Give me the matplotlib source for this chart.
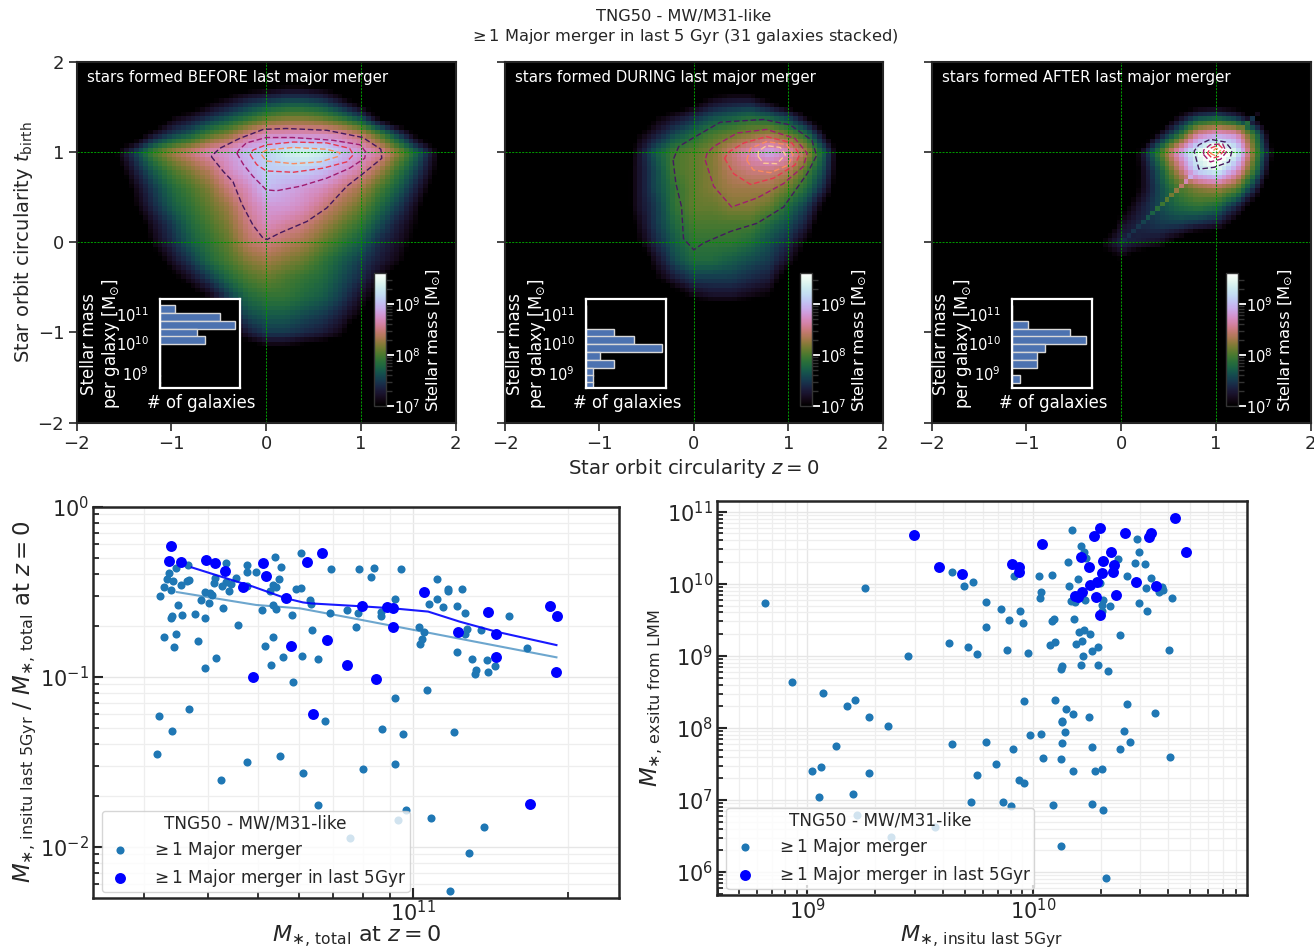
import numpy as np
import matplotlib
matplotlib.use("Agg")
import matplotlib.pyplot as plt
from matplotlib.colors import LogNorm
from matplotlib.ticker import LogLocator, NullFormatter, LogFormatterMathtext

W, H = 1314, 948
TXT = '#262626'
plt.rcParams.update({'font.family': 'DejaVu Sans', 'text.color': TXT, 'axes.labelcolor': TXT,
                     'xtick.color': TXT, 'ytick.color': TXT, 'axes.edgecolor': TXT})

# --- log10 stellar mass x10, read on a 0.2 grid (rows: y=2..-2, columns: x=-2..2); 65 = below the colour range
_ = 65
density_before = [
 [_]*21,
 [_,_,_,_,_,_,_,_,_,66,67,68,68,67,66,_,_,_,_,_,_],
 [_,_,_,_,_,_,_,69,71,73,74,75,75,74,71,67,_,_,_,_,_],
 [_,_,_,_,_,70,72,74,76,78,80,81,81,80,78,75,69,_,_,_,_],
 [_,_,_,67,72,75,77,80,82,85,87,87,87,87,86,84,80,75,69,_,_],
 [_,_,70,75,80,83,85,87,88,90,91,93,94,93,90,88,86,82,77,71,_],
 [_,_,68,73,77,80,82,84,87,89,91,91,91,90,88,86,83,79,75,70,_],
 [_,_,_,71,75,78,80,82,85,87,90,89,88,87,85,83,80,77,73,68,_],
 [_,_,_,70,74,77,79,81,83,86,88,88,87,85,83,81,78,75,71,_,_],
 [_,_,_,67,72,75,78,80,82,85,87,86,85,83,81,79,76,73,70,_,_],
 [_,_,_,_,71,74,77,79,81,84,85,84,83,81,79,77,74,72,69,_,_],
 [_,_,_,_,68,72,75,78,80,82,83,82,81,79,77,75,73,71,66,_,_],
 [_,_,_,_,_,69,72,75,78,80,81,80,79,78,76,74,71,67,_,_,_],
 [_,_,_,_,_,_,68,71,75,78,79,79,78,77,75,72,69,_,_,_,_],
 [_,_,_,_,_,_,_,68,73,76,77,77,76,75,73,70,_,_,_,_,_],
 [_,_,_,_,_,_,_,_,69,73,75,75,74,73,71,_,_,_,_,_,_],
 [_,_,_,_,_,_,_,_,_,67,69,69,68,67,66,_,_,_,_,_,_],
 [_]*21, [_]*21, [_]*21, [_]*21,
]
density_during = [
 [_]*21, [_]*21,
 [_,_,_,_,_,_,_,_,_,_,68,71,72,72,69,_,_,_,_,_,_],
 [_,_,_,_,_,_,_,_,70,72,74,76,77,78,77,75,70,_,_,_,_],
 [_,_,_,_,_,_,_,70,73,76,78,80,81,82,83,81,78,70,_,_,_],
 [_,_,_,_,_,_,_,72,77,80,81,82,85,87,89,87,83,76,_,_,_],
 [_,_,_,_,_,_,67,72,76,80,81,82,84,85,85,84,80,75,_,_,_],
 [_,_,_,_,_,_,67,72,76,79,81,82,83,83,83,81,78,73,_,_,_],
 [_,_,_,_,_,_,67,72,75,79,81,81,82,82,81,78,75,69,_,_,_],
 [_,_,_,_,_,_,_,71,75,78,80,80,80,80,78,76,73,66,_,_,_],
 [_,_,_,_,_,_,_,70,74,77,79,79,79,78,76,74,70,_,_,_,_],
 [_,_,_,_,_,_,_,66,72,76,78,78,77,76,75,72,67,_,_,_,_],
 [_,_,_,_,_,_,_,_,70,73,75,75,75,74,73,68,_,_,_,_,_],
 [_,_,_,_,_,_,_,_,_,68,71,72,72,71,70,_,_,_,_,_,_],
 [_]*21, [_]*21, [_]*21, [_]*21, [_]*21, [_]*21, [_]*21,
]
density_after = [
 [_]*21, [_]*21, [_]*21,
 [_,_,_,_,_,_,_,_,_,_,_,_,_,71,75,76,74,69,_,_,_],
 [_,_,_,_,_,_,_,_,_,_,_,_,72,78,86,88,87,79,67,_,_],
 [_,_,_,_,_,_,_,_,_,_,_,72,80,88,95,100,94,81,70,_,_],
 [_,_,_,_,_,_,_,_,_,_,_,71,77,84,92,94,88,79,68,_,_],
 [_,_,_,_,_,_,_,_,_,_,66,71,76,80,82,83,81,74,_,_,_],
 [_,_,_,_,_,_,_,_,_,_,69,73,76,78,79,78,74,68,_,_,_],
 [_,_,_,_,_,_,_,_,_,66,72,74,75,75,74,73,69,_,_,_,_],
 [_,_,_,_,_,_,_,_,_,71,74,73,72,69,_,_,_,_,_,_,_],
 [_,_,_,_,_,_,_,_,_,68,70,66,_,_,_,_,_,_,_,_,_],
 [_]*21, [_]*21, [_]*21, [_]*21, [_]*21, [_]*21, [_]*21, [_]*21, [_]*21,
]
streak_pos = [0.0, 0.2, 0.4, 0.6, 0.7, 0.75, 1.2, 1.3, 1.4, 1.45]
streak_val = [74, 75, 79, 83, 88, 90, 85, 80, 73, 70]

# --- contours (circularity z=0, circularity t_birth)
cont_before = [
 [(-.58,.95),(-.45,.78),(-.35,.67),(-.26,.43),(-.14,.19),(-.03,.04),(.01,.03),(.14,.10),(.43,.23),(.64,.38),(.85,.62),(1.01,.75),(1.22,.93),(1.21,1.03),(1.02,1.16),(.64,1.24),(.21,1.26),(-.03,1.25),(-.28,1.15),(-.49,1.04)],
 [(-.31,.985),(-.24,.86),(-.14,.73),(0,.58),(.11,.57),(.36,.62),(.64,.71),(.88,.82),(1.04,.93),(1.05,1.0),(.99,1.08),(.70,1.13),(.28,1.16),(0,1.16),(-.21,1.10),(-.29,1.02)],
 [(-.17,.97),(-.10,.86),(0,.79),(.285,.775),(.60,.82),(.85,.89),(.92,.97),(.88,1.04),(.64,1.10),(.285,1.11),(0,1.08),(-.14,1.02)],
 [(-.05,.97),(0,.90),(.285,.87),(.57,.89),(.76,.95),(.78,.99),(.64,1.03),(.285,1.05),(0,1.02),(-.05,.99)],
]
cont_during = [
 [(-.22,.91),(-.19,.65),(-.13,.39),(-.11,.04),(0,-.085),(.10,-.01),(.39,.12),(.67,.21),(.95,.39),(1.20,.76),(1.30,.96),(1.25,1.13),(1.02,1.30),(.74,1.36),(.28,1.33),(0,1.16),(-.16,1.06)],
 [(.12,.91),(.21,.62),(.40,.39),(.67,.49),(.95,.65),(1.16,.84),(1.20,.985),(1.07,1.15),(.77,1.25),(.46,1.21),(.21,1.06),(.14,.985)],
 [(.325,.93),(.42,.76),(.60,.64),(.845,.71),(1.07,.855),(1.12,.97),(1.04,1.10),(.77,1.17),(.53,1.10),(.37,1.0)],
 [(.56,.91),(.63,.80),(.81,.77),(1.0,.855),(1.05,.97),(.985,1.08),(.77,1.115),(.60,1.04)],
 [(.68,.95),(.74,.875),(.88,.87),(.97,.97),(.915,1.05),(.77,1.07),(.685,1.01)],
]
cont_after = [
 [(.785,.95),(.82,.81),(.98,.83),(1.14,.89),(1.17,1.02),(1.10,1.11),(.94,1.14),(.82,1.08),(.77,1.01)],
 [(.87,.97),(.94,.89),(1.05,.92),(1.11,1.0),(1.07,1.09),(.94,1.08),(.87,1.02)],
 [(.91,.985),(.96,.93),(1.03,.95),(1.09,1.02),(1.03,1.08),(.94,1.04)],
 [(.94,.985),(1.0,.955),(1.05,1.02),(1.0,1.04)],
]
cont_colors = ['#45195f', '#a01c70', '#e8384f', '#fb8b5e', '#fdc894']

# --- inset histograms
hist_centers = [11.17, 10.91, 10.64, 10.37, 10.11, 9.84, 9.57, 9.30, 9.04, 8.79, 8.56]
hist_before = [2, 8, 10, 5, 6, 0, 0, 0, 0, 0, 0]
hist_during = [0, 0, 0, 4, 7, 11, 2, 4, 1, 1, 1]
hist_after  = [0, 0, 2, 7, 9, 4, 3, 3, 0, 1, 0]
hist_xmax = [10.7, 11.6, 9.7]

titles = ['stars formed BEFORE last major merger', 'stars formed DURING last major merger', 'stars formed AFTER last major merger']

# --- bottom left: log10 total mass, log10 fraction
allm_x = [10.509,10.516,10.525,10.523,10.533,10.530,10.539,10.562,10.549,10.560,10.565,10.544,10.551,10.531,10.530,10.516,10.540,10.536,10.577,10.595,10.583,10.617,10.595,10.595,10.606,10.609,10.603,10.589,10.615,10.613,10.628,10.637,10.637,10.647,10.656,10.642,10.630,10.659,10.677,10.677,10.695,10.678,10.722,10.728,10.734,10.740,10.732,10.743,10.728,10.733,10.707,10.764,10.773,10.727,10.713,10.724,10.747,10.767,10.507,10.564,
 10.783,10.840,10.894,10.924,10.919,10.976,10.782,10.799,10.802,10.839,10.871,10.892,10.938,10.937,10.964,10.803,10.888,10.785,10.816,10.828,11.046,11.067,11.067,11.094,11.047,11.030,11.058,11.084,11.100,11.186,11.011,11.020,11.017,11.014,11.105,11.100,11.132,11.085,11.115,11.143,11.158,11.121,11.119,11.146,11.220,11.026,10.964,
 10.531,10.939,10.981,11.080,10.503,10.678,10.741,10.787,10.627,10.903,10.964,10.815,10.986,11.035,10.970,10.878,11.137,11.108,11.072]
allm_y = [-.523,-.470,-.392,-.427,-.435,-.490,-.359,-.345,-.461,-.435,-.431,-.578,-.637,-.643,-.657,-.765,-.747,-.823,-.631,-.657,-.788,-.888,-.951,-.500,-.510,-.519,-.565,-.549,-.421,-.447,-.465,-.329,-.441,-.457,-.421,-.494,-.598,-.694,-.343,-.384,-.384,-.467,-.496,-.461,-.470,-.425,-.298,-.355,-.578,-.604,-.606,-.635,-.486,-.767,-.817,-.931,-.886,-1.029,-1.231,-1.190,
 -.274,-.365,-.367,-.359,-.412,-.365,-.478,-.549,-.574,-.625,-.606,-.625,-.617,-.645,-.543,-.723,-.706,-.878,-.894,-1.259,-.425,-.482,-.496,-.482,-.545,-.574,-.590,-.584,-.625,-.643,-.706,-.739,-.780,-.810,-.721,-.751,-.723,-.853,-.898,-.904,-.935,-.959,-.986,-.970,-.829,-1.078,-1.127,
 -1.319,-1.310,-1.337,-1.323,-1.455,-1.500,-1.466,-1.565,-1.608,-1.543,-1.516,-1.755,-1.784,-1.833,-1.841,-1.947,-1.882,-2.035,-2.259]
last_x = [10.529,10.525,10.549,10.598,10.616,10.634,10.670,10.709,10.715,10.753,10.763,10.689,10.823,10.793,11.021,10.900,10.949,10.961,11.146,11.266,11.279,10.961,11.086,11.161,10.833,11.161,10.872,10.927,11.278,10.805,11.226]
last_y = [-.229,-.319,-.327,-.314,-.329,-.376,-.474,-.333,-.408,-.537,-.821,-1.000,-.272,-.327,-.502,-.586,-.590,-.596,-.617,-.582,-.643,-.706,-.735,-.747,-.786,-.886,-.931,-1.016,-.974,-1.221,-1.749]
med_last_x = [10.570,10.637,10.689,10.753,10.786,10.802,10.900,10.961,11.029,11.090,11.161,11.278]
med_last_y = [-.357,-.421,-.470,-.539,-.563,-.569,-.586,-.598,-.617,-.676,-.735,-.814]
med_all_x = [10.541,10.695,10.780,10.877,11.029,11.103,11.278]
med_all_y = [-.502,-.578,-.598,-.653,-.741,-.784,-.886]

# --- bottom right: log10 in-situ mass, log10 ex-situ mass
ex_all_x = [8.813,8.931,9.071,9.176,9.212,9.276,9.255,9.445,9.627,9.641,
 9.360,9.128,9.019,9.062,9.274,9.050,9.201,9.222,9.643,9.792,9.988,10.038,9.912,9.835,9.751,10.129,10.129,10.143,10.405,10.432,10.263,10.386,10.045,10.126,10.177,10.277,10.306,9.937,9.963,9.726,9.867,9.903,10.092,10.263,10.311,10.608,10.126,10.325,9.372,9.568,
 9.695,9.735,9.793,9.858,9.944,9.895,9.959,9.792,9.712,9.755,9.888,9.981,9.919,10.030,10.087,10.038,10.034,10.158,10.213,10.229,10.236,10.173,10.202,10.163,10.169,10.188,10.232,10.310,10.309,10.344,10.306,10.377,10.464,10.471,10.452,10.498,10.417,10.299,10.523,10.504,10.572,10.579,10.562,10.618,10.473,10.505,10.185,10.093,10.087,10.207,10.226,10.254,10.389,10.220,10.194,10.099,10.077,10.290,10.262,10.223,10.606,10.213,10.291,10.332,10.132,10.126,9.961,10.099,10.146,10.179,10.250,10.129,10.418,10.541]
ex_all_y = [9.727,8.639,8.482,8.297,8.394,8.149,9.936,9.000,9.176,10.167,
 8.028,7.755,7.403,7.454,7.376,7.047,7.079,6.792,7.774,7.802,7.908,7.913,7.709,7.505,7.343,7.792,8.079,7.940,7.954,7.802,7.737,7.704,7.584,7.565,7.399,7.399,7.426,7.283,7.232,6.968,6.977,6.922,6.926,6.945,6.866,7.598,6.366,5.922,6.487,6.626,
 9.973,10.028,9.741,9.649,9.625,9.496,9.463,9.399,9.121,9.024,9.079,9.033,10.107,10.102,10.125,9.885,9.810,10.301,10.524,10.445,10.352,10.750,10.061,9.973,9.760,9.750,9.774,9.774,9.704,9.690,9.625,10.343,10.616,10.445,10.283,10.274,10.102,10.014,10.075,9.936,9.950,9.912,9.889,9.806,9.737,9.621,9.510,9.510,9.482,9.334,9.357,9.301,9.283,9.213,9.158,9.186,9.144,9.121,9.065,8.999,9.088,8.871,8.880,8.792,8.866,8.824,8.371,8.385,8.264,8.190,8.158,8.098,8.329,8.209]
ex_last_x = [9.475,9.584,9.688,9.907,9.939,9.939,10.043,10.213,10.271,10.300,10.409,10.516,10.523,10.633,10.678,10.347,10.310,10.251,10.359,10.355,10.306,10.284,10.254,10.220,10.202,10.188,10.282,10.371,10.460,10.547,10.297]
ex_last_y = [10.676,10.227,10.130,10.269,10.227,10.167,10.551,10.376,10.667,10.778,10.709,10.653,10.709,10.908,10.440,10.436,10.320,10.237,10.260,10.158,10.153,10.028,9.982,9.885,9.820,9.829,9.815,9.843,10.024,9.968,9.574]

SUPTITLE = ['TNG50 - MW/M31-like', r'$\geq 1$ Major merger in last 5 Gyr (31 galaxies stacked)']
L_ALL = r'$\geq 1$ Major merger'
L_LAST = r'$\geq 1$ Major merger in last 5Gyr'
L_TITLE = 'TNG50 - MW/M31-like'

fig = plt.figure(figsize=(W/100, H/100), dpi=100, facecolor='white')

def box(x0, y0, x1, y1):
    return [x0/W, 1-y1/H, (x1-x0)/W, (y1-y0)/H]

def fine_grid(rows, n=80):
    g = np.array(rows, dtype=float)
    c = np.linspace(-2, 2, 21)
    f = -2 + (np.arange(n)+.5)*4/n
    a = np.array([np.interp(f, c, r) for r in g])          # along x, rows still y=2..-2
    b = np.array([np.interp(f, c, a[::-1, j])[::-1] for j in range(n)]).T  # along y, top row first
    return b, f

panels = [
 dict(d=density_before, c=cont_before, h=hist_before, ax=(76.7,61.7,455.7,422.7), ins=(160,299.3,240,387.7), cb=(374,273.3,386,406)),
 dict(d=density_during, c=cont_during, h=hist_during, ax=(505,61.7,882.7,422.7), ins=(586,299.3,666,387.7), cb=(800,273.3,812,406)),
 dict(d=density_after, c=cont_after, h=hist_after, ax=(931.7,61.7,1310.7,422.7), ins=(1012,299.3,1092,387.7), cb=(1226,273.3,1238,406)),
]
norm = LogNorm(vmin=1e7, vmax=10**9.6)

for i, p in enumerate(panels):
    ax = fig.add_axes(box(*p['ax']))
    grid, f = fine_grid(p['d'])
    if i == 2:
        sv = np.interp(f, streak_pos, streak_val, left=0, right=0)
        for k in range(len(f)):
            grid[79-k, k] = max(grid[79-k, k], sv[k])
    im = ax.imshow(10**(grid/10), extent=(-2, 2, -2, 2), origin='upper', aspect='auto',
                   cmap='cubehelix', norm=norm, interpolation='nearest')
    ax.set_facecolor('black')
    for v in (0, 1):
        ax.axvline(v, color='#009400', lw=.75, ls=(0, (2, 1.2)))
        ax.axhline(v, color='#009400', lw=.75, ls=(0, (2, 1.2)))
    for poly, col in zip(p['c'], cont_colors):
        xs = [q[0] for q in poly] + [poly[0][0]]
        ys = [q[1] for q in poly] + [poly[0][1]]
        ax.plot(xs, ys, color=col, lw=1.0, ls=(0, (4, 2)))
    ax.set_xlim(-2, 2); ax.set_ylim(-2, 2)
    ax.set_xticks([-2, -1, 0, 1, 2]); ax.set_yticks([-2, -1, 0, 1, 2])
    ax.tick_params(length=6, width=1.2, labelsize=13, pad=3)
    if i:
        ax.tick_params(labelleft=False)
    for s in ax.spines.values():
        s.set_linewidth(1.5)
    ax.text(.027, .955, titles[i], transform=ax.transAxes, color='white', fontsize=10.8, va='center')
    if i == 0:
        ax.set_ylabel(r'Star orbit circularity $t_{\rm birth}$', fontsize=14, labelpad=2)
    if i == 1:
        ax.set_xlabel(r'Star orbit circularity $z=0$', fontsize=14.2, labelpad=3)

    # colour bar
    x0, y0, x1, y1 = p['cb']
    cax = fig.add_axes(box(x0, y0, x1, y1))
    cb = fig.colorbar(im, cax=cax)
    cb.outline.set_edgecolor('#333333'); cb.outline.set_linewidth(1)
    cax.yaxis.set_major_locator(LogLocator(base=10, numticks=5))
    cax.yaxis.set_major_formatter(LogFormatterMathtext())
    cax.yaxis.set_minor_locator(LogLocator(base=10, subs=range(2, 10), numticks=10))
    cax.yaxis.set_minor_formatter(NullFormatter())
    cax.tick_params(which='major', length=6, width=1.3, color='white', labelcolor='white', labelsize=10.5, pad=0)
    cax.tick_params(which='minor', length=4, width=1, color='#333333')
    fig.text((x1+47)/W, 1-(340)/H, r'Stellar mass [M$_{\odot}$]', color='white', fontsize=11.8,
             rotation=90, ha='center', va='center')

    # histogram inset
    x0, y0, x1, y1 = p['ins']
    hax = fig.add_axes(box(x0, y0, x1, y1), facecolor='black')
    lo = [10**(c-.133) for c in hist_centers]
    hi = [10**(c+.133) for c in hist_centers]
    hax.set_yscale('log')
    hax.barh(lo, p['h'], height=[b-a for a, b in zip(lo, hi)], align='edge', color='#4c72b0',
             edgecolor='#d8d8d8', linewidth=1)
    hax.set_xlim(0, hist_xmax[i]); hax.set_ylim(10**8.5, 10**11.5)
    hax.set_xticks([]); hax.set_yticks([1e9, 1e10, 1e11])
    hax.yaxis.set_minor_formatter(NullFormatter())
    hax.tick_params(which='both', length=0, labelcolor='white', labelsize=10.5, pad=8)
    for s in hax.spines.values():
        s.set_edgecolor('white'); s.set_linewidth(1.6)
    fig.text((x0+41)/W, 1-(403)/H, '# of galaxies', color='white', fontsize=11.9, ha='center', va='center')
    fig.text((x0-59)/W, 1-(344)/H, 'Stellar mass\nper galaxy [M$_{\\odot}$]', color='white', fontsize=11.9,
             rotation=90, ha='center', va='center', linespacing=1.1, multialignment='center')

fig.text(684/W, 1-17/H, SUPTITLE[0], fontsize=11.7, ha='center', va='center')
fig.text(684/W, 1-36/H, SUPTITLE[1], fontsize=11.7, ha='center', va='center')

def style_scatter(ax, xlim, ylim):
    ax.set_xscale('log'); ax.set_yscale('log')
    ax.set_xlim(*xlim); ax.set_ylim(*ylim)
    for axis in (ax.xaxis, ax.yaxis):
        axis.set_major_locator(LogLocator(base=10, numticks=15))
        axis.set_minor_locator(LogLocator(base=10, subs=range(2, 10), numticks=15))
        axis.set_minor_formatter(NullFormatter())
    ax.grid(which='major', color='#e6e6e6', lw=1)
    ax.grid(which='minor', color='#eeeeee', lw=.9)
    ax.set_axisbelow(True)
    ax.tick_params(which='major', direction='in', length=7, width=1.5, labelsize=15)
    ax.tick_params(axis='x', which='major', pad=2)
    ax.tick_params(axis='y', which='major', pad=3)
    ax.tick_params(which='minor', direction='in', length=4, width=1.3)
    for s in ax.spines.values():
        s.set_linewidth(1.8)

def legend(ax, h1, h2, x0, y1):
    leg = ax.legend([h1, h2], [L_ALL, L_LAST], title=L_TITLE, fontsize=12.2, title_fontsize=12.2,
                    loc='lower left', bbox_to_anchor=(x0/W, 1-y1/H), bbox_transform=fig.transFigure,
                    borderaxespad=0, framealpha=.8, edgecolor='#cccccc', labelspacing=.36,
                    handletextpad=.9, handlelength=1.8, borderpad=.2, scatterpoints=1)
    leg._legend_box.align = 'center'
    return leg

# bottom left
axl = fig.add_axes(box(93.3, 506.7, 619.3, 897.7))
style_scatter(axl, (10**10.379, 10**11.40), (10**-2.30, 1))
p1 = axl.scatter(10**np.array(allm_x), 10**np.array(allm_y), s=34, color='#1f77b4', zorder=3, linewidths=0)
p2 = axl.scatter(10**np.array(last_x), 10**np.array(last_y), s=62, color='blue', zorder=4, linewidths=0)
axl.plot(10**np.array(med_all_x), 10**np.array(med_all_y), color='#1f77b4', alpha=.65, lw=1.5, zorder=3)
axl.plot(10**np.array(med_last_x), 10**np.array(med_last_y), color='blue', alpha=.9, lw=1.5, zorder=3)
axl.set_xlabel(r'$M_{\ast,\,{\rm total}}$ at $z=0$', fontsize=16, labelpad=-1)
axl.set_ylabel(r'$M_{\ast,\,{\rm insitu\ last\ 5Gyr}}$ / $M_{\ast,\,{\rm total}}$ at $z=0$', fontsize=16.5, labelpad=1)
legend(axl, p1, p2, 101.6, 892)

# bottom right
axr = fig.add_axes(box(717.3, 501, 1246.7, 895))
style_scatter(axr, (10**8.601, 10**10.949), (10**5.68, 10**11.15))
p3 = axr.scatter(10**np.array(ex_all_x), 10**np.array(ex_all_y), s=34, color='#1f77b4', zorder=3, linewidths=0)
p4 = axr.scatter(10**np.array(ex_last_x), 10**np.array(ex_last_y), s=62, color='blue', zorder=4, linewidths=0)
axr.set_xlabel(r'$M_{\ast,\,{\rm insitu\ last\ 5Gyr}}$', fontsize=16, labelpad=0)
axr.set_ylabel(r'$M_{\ast,\,{\rm exsitu\ from\ LMM}}$', fontsize=16.5, labelpad=1)
legend(axr, p3, p4, 726.4, 889)

fig.savefig('out.png', dpi=100, facecolor='white')
